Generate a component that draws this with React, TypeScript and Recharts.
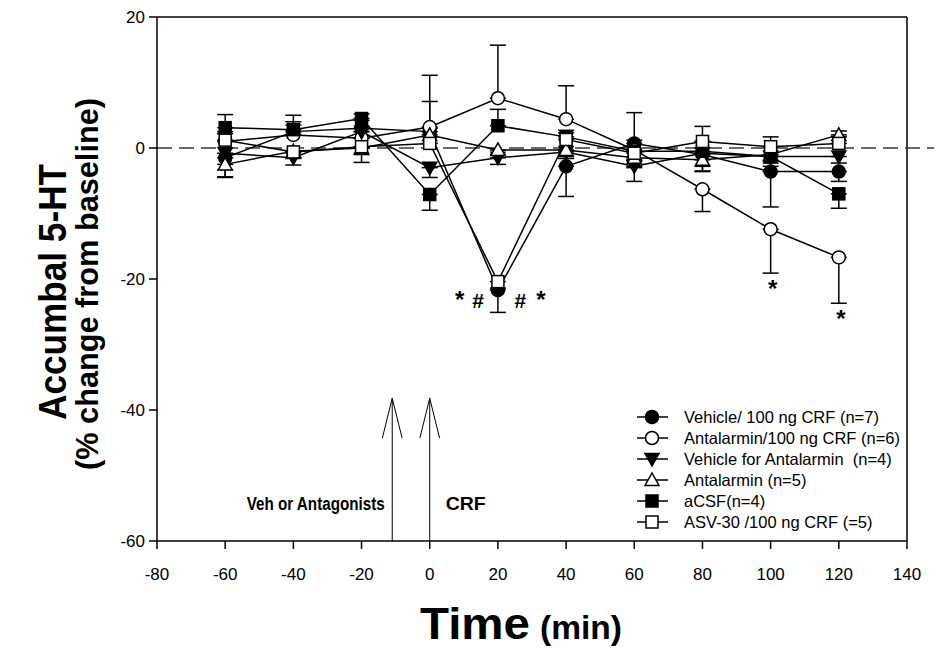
import React from 'react';
import {
  ComposedChart,
  Line,
  Scatter,
  XAxis,
  YAxis,
  ErrorBar,
  ReferenceLine,
  Legend,
} from 'recharts';

const FONT = '"Liberation Sans", Arial, Helvetica, sans-serif';
const INK = '#000';

// sampling times (min)
const times = [-60, -40, -20, 0, 20, 40, 60, 80, 100, 120];
const xTicks = [-80, -60, -40, -20, 0, 20, 40, 60, 80, 100, 120, 140];
const yTicks = [-60, -40, -20, 0, 20];

// % change from baseline, errors signed: + drawn up, - drawn down
const vehicleCrf = [-1.5, 2.5, 3, 2.5, -21.7, -2.8, 0.7, -1, -3.6, -3.6];
const vehicleCrfErr = [-2.9, 1.5, 1.2, 4.6, -3.4, -4.6, 4.7, -2.5, -5.4, -1.5];

const antalarminCrf = [1, 2, 1.5, 3.2, 7.6, 4.4, -0.3, -6.3, -12.4, -16.7];
const antalarminCrfErr = [1.5, 1.5, 1, 7.9, 8.1, 5.1, 1.5, -3.4, -6.7, -7];

const vehicleAnt = [-0.8, -1.5, 2.5, -3, -1.5, -0.6, -2.8, -0.8, -1.3, -1.3];
const vehicleAntErr = [-2.5, -1.1, -1, -1.5, -1, -1, -2.3, -2, -1, -1];

const antalarmin = [-2.5, -0.5, 0, 2, -0.3, -0.3, -1.5, -1.8, -1, 2];
const antalarminErr = [-2, -1, -1, 1, -0.7, -1, -1.5, -1.8, -1, 0.6];

const acsf = [3.1, 2.8, 4.5, -7.1, 3.4, 1.7, -0.5, -0.5, -1.3, -7];
const acsfErr = [2, 2.2, 0.7, -2.4, 2.5, 1, -1.5, 1.5, -1.5, -2.2];

const asv = [1.2, -0.6, 0.2, 0.7, -20.4, 1.3, -0.8, 1.0, 0.2, 0.7];
const asvErr = [1, -1, -2.4, 1, -1, 1, -1, 2.3, 1.5, 1];

const SERIES = [
  { key: 'vehCrf', name: 'Vehicle/ 100 ng CRF (n=7)', shape: 'circle', filled: true, values: vehicleCrf, errors: vehicleCrfErr },
  { key: 'antCrf', name: 'Antalarmin/100 ng CRF (n=6)', shape: 'circle', filled: false, values: antalarminCrf, errors: antalarminCrfErr },
  { key: 'vehAnt', name: 'Vehicle for Antalarmin  (n=4)', shape: 'triDown', filled: true, values: vehicleAnt, errors: vehicleAntErr },
  { key: 'ant', name: 'Antalarmin (n=5)', shape: 'triUp', filled: false, values: antalarmin, errors: antalarminErr },
  { key: 'acsf', name: 'aCSF(n=4)', shape: 'square', filled: true, values: acsf, errors: acsfErr },
  { key: 'asv', name: 'ASV-30 /100 ng CRF (=5)', shape: 'square', filled: false, values: asv, errors: asvErr },
];

// significance marks and arrow captions
const notes = [
  { t: 8.8, y: -24.4, text: '*', anchor: 'middle', size: 24 },
  { t: 14.2, y: -24.4, text: '#', anchor: 'middle', size: 21 },
  { t: 26.6, y: -24.4, text: '#', anchor: 'middle', size: 21 },
  { t: 32.6, y: -24.4, text: '*', anchor: 'middle', size: 24 },
  { t: 100.6, y: -22.8, text: '*', anchor: 'middle', size: 24 },
  { t: 120.6, y: -27.4, text: '*', anchor: 'middle', size: 24 },
  { t: -13.2, y: -55.3, text: 'Veh or Antagonists', anchor: 'end', size: 18, len: 138 },
  { t: 4.7, y: -55.3, text: 'CRF', anchor: 'start', size: 18, len: 40 },
];

const arrowTimes = [-11, 0];
const arrowTip = -38.2;
const arrowWing = -44.3;
const arrowDx = 2.9;

const data = times.map((t, i) => {
  const row: any = { t };
  SERIES.forEach((s) => {
    row[s.key] = s.values[i];
    const e = s.errors[i];
    row[s.key + 'Err'] = e >= 0 ? [0, e] : [-e, 0];
  });
  return row;
});

function Marker({ cx, cy, shape, filled }: any) {
  const common = { fill: filled ? INK : '#fff', stroke: INK, strokeWidth: 1.5 };
  if (shape === 'circle') return <circle cx={cx} cy={cy} r={6.5} {...common} />;
  if (shape === 'square') return <rect x={cx - 6} y={cy - 6} width={12} height={12} {...common} />;
  if (shape === 'triDown')
    return <polygon points={`${cx - 7},${cy - 5.5} ${cx + 7},${cy - 5.5} ${cx},${cy + 7}`} {...common} />;
  return <polygon points={`${cx},${cy - 7} ${cx + 7},${cy + 5.5} ${cx - 7},${cy + 5.5}`} {...common} />;
}

function LegendBox() {
  return (
    <svg width={290} height={140}>
      {SERIES.map((s, i) => {
        const y = 12 + i * 21;
        return (
          <g key={s.key}>
            <line x1={7} x2={38} y1={y} y2={y} stroke={INK} strokeWidth={1.5} />
            <Marker cx={22} cy={y} shape={s.shape} filled={s.filled} />
            <text x={54} y={y + 6} fontSize={16.5} fontFamily={FONT} fill={INK} style={{ whiteSpace: 'pre' }}>
              {s.name}
            </text>
          </g>
        );
      })}
    </svg>
  );
}

export default function App() {
  const tickStyle = { fontSize: 17, fill: INK, fontFamily: FONT };
  return (
    <div style={{ position: 'absolute', left: 0, top: 0, width: 936, height: 653, background: '#fff' }}>
      <ComposedChart width={936} height={653} data={data} margin={{ top: 17, right: 29, bottom: 0, left: 0 }}>
        <XAxis
          dataKey="t"
          type="number"
          domain={[-80, 140]}
          ticks={xTicks}
          interval={0}
          height={112}
          tickSize={8}
          tickMargin={19}
          tick={tickStyle}
          stroke={INK}
          strokeWidth={1.5}
        />
        <YAxis
          type="number"
          domain={[-60, 20]}
          ticks={yTicks}
          interval={0}
          width={157}
          tickSize={8}
          tickMargin={4}
          tick={tickStyle}
          stroke={INK}
          strokeWidth={1.5}
        />
        <ReferenceLine y={20} stroke={INK} strokeWidth={1.5} />
        <ReferenceLine x={140} stroke={INK} strokeWidth={1.5} />
        <ReferenceLine
          segment={[{ x: -80, y: 0 }, { x: 148, y: 0 }]}
          ifOverflow="visible"
          stroke="#3a3a3a"
          strokeWidth={1.4}
          strokeDasharray="15 7"
        />
        {arrowTimes.map((t) => (
          <ReferenceLine key={`shaft${t}`} segment={[{ x: t, y: -60 }, { x: t, y: arrowTip }]} stroke={INK} strokeWidth={1} />
        ))}
        {arrowTimes.map((t) => (
          <ReferenceLine key={`wl${t}`} segment={[{ x: t - arrowDx, y: arrowWing }, { x: t, y: arrowTip }]} stroke={INK} strokeWidth={1} />
        ))}
        {arrowTimes.map((t) => (
          <ReferenceLine key={`wr${t}`} segment={[{ x: t + arrowDx, y: arrowWing }, { x: t, y: arrowTip }]} stroke={INK} strokeWidth={1} />
        ))}
        {SERIES.map((s) => (
          <Line
            key={s.key}
            dataKey={s.key}
            name={s.name}
            stroke={INK}
            strokeWidth={1.5}
            isAnimationActive={false}
            dot={(p: any) => <Marker key={`${s.key}-${p.index}`} cx={p.cx} cy={p.cy} shape={s.shape} filled={s.filled} />}
            activeDot={false}
          >
            <ErrorBar dataKey={s.key + 'Err'} direction="y" width={8} stroke={INK} strokeWidth={1.5} />
          </Line>
        ))}
        <Scatter
          data={notes}
          dataKey="y"
          isAnimationActive={false}
          shape={(p: any) => (
            <text
              x={p.cx}
              y={p.cy}
              textAnchor={p.payload.anchor}
              fontSize={p.payload.size}
              fontWeight="bold"
              fontFamily={FONT}
              fill={INK}
              textLength={p.payload.len}
              lengthAdjust={p.payload.len ? 'spacingAndGlyphs' : undefined}
            >
              {p.payload.text}
            </text>
          )}
        />
        <Legend
          layout="horizontal"
          verticalAlign="middle"
          content={() => <LegendBox />}
          wrapperStyle={{ position: 'absolute', left: 630, top: 405, width: 290, height: 140 }}
        />
      </ComposedChart>
      <svg width={936} height={653} style={{ position: 'absolute', left: 0, top: 0, pointerEvents: 'none' }}>
        <text
          transform="translate(66, 292) rotate(-90)"
          textAnchor="middle"
          fontSize={38}
          fontWeight="bold"
          fontFamily={FONT}
          fill={INK}
          textLength={256}
          lengthAdjust="spacingAndGlyphs"
        >
          Accumbal 5-HT
        </text>
        <text
          transform="translate(98, 284) rotate(-90)"
          textAnchor="middle"
          fontSize={31}
          fontWeight="bold"
          fontFamily={FONT}
          fill={INK}
          textLength={372}
          lengthAdjust="spacingAndGlyphs"
        >
          (% change from baseline)
        </text>
        <text
          x={420}
          y={639}
          fontSize={44}
          fontWeight="bold"
          fontFamily={FONT}
          fill={INK}
          textLength={110}
          lengthAdjust="spacingAndGlyphs"
        >
          Time
        </text>
        <text
          x={540}
          y={639}
          fontSize={33}
          fontWeight="bold"
          fontFamily={FONT}
          fill={INK}
          textLength={82}
          lengthAdjust="spacingAndGlyphs"
        >
          (min)
        </text>
      </svg>
    </div>
  );
}
